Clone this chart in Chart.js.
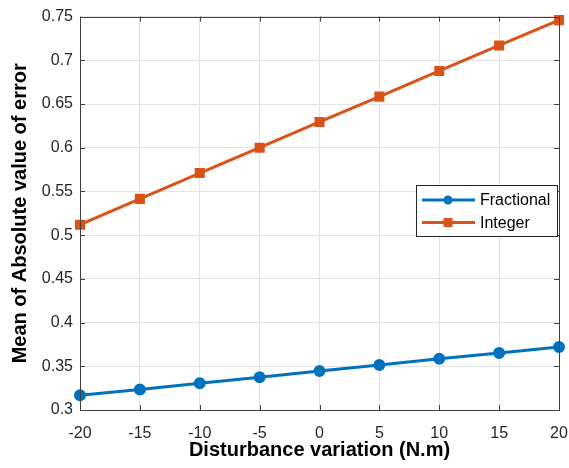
<!DOCTYPE html>
<html>
<head>
<meta charset="utf-8">
<title>Mean of absolute error vs disturbance</title>
<script src="https://cdn.jsdelivr.net/npm/chart.js@4.4.1/dist/chart.umd.min.js"></script>
<style>
  html, body { margin: 0; padding: 0; background: #fff; }
</style>
</head>
<body>
<canvas id="errChart" width="569" height="468"></canvas>
<script>
// disturbance torque steps (N.m) and mean absolute error per controller
const disturbance = [-20, -15, -10, -5, 0, 5, 10, 15, 20];
const fractional = [0.317, 0.3235, 0.3305, 0.3375, 0.3445, 0.3515, 0.3585, 0.3652, 0.372];
const integer = [0.512, 0.5415, 0.571, 0.6, 0.6295, 0.6585, 0.6878, 0.717, 0.746];
const xTicks = [-20, -15, -10, -5, 0, 5, 10, 15, 20];
const yTicks = [0.3, 0.35, 0.4, 0.45, 0.5, 0.55, 0.6, 0.65, 0.7, 0.75];

const FONT = "'Liberation Sans', Arial, sans-serif";
const AXIS_COLOR = '#404040';
const BLUE = '#0072BD';
const ORANGE = '#D95319';

const toPoints = ys => disturbance.map((x, i) => ({ x: x, y: ys[i] }));

// MATLAB style box with inward ticks on every side
const boxPlugin = {
    id: 'boxTicks',
    afterDatasetsDraw(chart) {
        const { ctx, chartArea: a, scales } = chart;
        const len = 5;
        ctx.save();
        ctx.strokeStyle = AXIS_COLOR;
        ctx.lineWidth = 1;
        ctx.strokeRect(Math.round(a.left) + 0.5, Math.round(a.top) + 0.5,
            Math.round(a.right - a.left), Math.round(a.bottom - a.top));
        ctx.beginPath();
        xTicks.forEach(v => {
            const px = Math.round(scales.x.getPixelForValue(v)) + 0.5;
            ctx.moveTo(px, a.bottom); ctx.lineTo(px, a.bottom - len);
            ctx.moveTo(px, a.top); ctx.lineTo(px, a.top + len);
        });
        yTicks.forEach(v => {
            const py = Math.round(scales.y.getPixelForValue(v)) + 0.5;
            ctx.moveTo(a.left, py); ctx.lineTo(a.left + len, py);
            ctx.moveTo(a.right, py); ctx.lineTo(a.right - len, py);
        });
        ctx.stroke();
        ctx.restore();
    }
};

// legend box drawn inside the axes, right side
const legendPlugin = {
    id: 'insideLegend',
    afterDraw(chart) {
        const { ctx, chartArea: a } = chart;
        const x0 = 416, y0 = 185, w = a.right - 2 - x0, h = 51;
        ctx.save();
        ctx.fillStyle = '#fff';
        ctx.fillRect(x0, y0, w, h);
        ctx.strokeStyle = '#262626';
        ctx.lineWidth = 1;
        ctx.strokeRect(x0 + 0.5, y0 + 0.5, w, h);
        chart.data.datasets.forEach((ds, i) => {
            const cy = y0 + 15 + i * 22.5;
            ctx.strokeStyle = ds.borderColor;
            ctx.lineWidth = ds.borderWidth;
            ctx.beginPath();
            ctx.moveTo(x0 + 6, cy); ctx.lineTo(x0 + 59, cy);
            ctx.stroke();
            ctx.fillStyle = ds.pointBackgroundColor;
            if (ds.pointStyle === 'rect') {
                ctx.fillRect(x0 + 32 - 4.5, cy - 4.5, 9, 9);
            } else {
                ctx.beginPath();
                ctx.arc(x0 + 32, cy, 4.5, 0, Math.PI * 2);
                ctx.fill();
            }
            ctx.fillStyle = '#000';
            ctx.font = '16px ' + FONT;
            ctx.textBaseline = 'middle';
            ctx.textAlign = 'left';
            ctx.fillText(ds.label, x0 + 64, cy + 1);
        });
        ctx.restore();
    }
};

new Chart(document.getElementById('errChart'), {
    type: 'line',
    data: {
        datasets: [
            {
                label: 'Fractional',
                data: toPoints(fractional),
                borderColor: BLUE,
                backgroundColor: BLUE,
                pointBackgroundColor: BLUE,
                pointBorderColor: BLUE,
                pointStyle: 'circle',
                pointRadius: 4.5,
                borderWidth: 3,
                tension: 0,
                clip: false
            },
            {
                label: 'Integer',
                data: toPoints(integer),
                borderColor: ORANGE,
                backgroundColor: ORANGE,
                pointBackgroundColor: ORANGE,
                pointBorderColor: ORANGE,
                pointStyle: 'rect',
                pointRadius: 5,
                borderWidth: 3,
                tension: 0,
                clip: false
            }
        ]
    },
    options: {
        responsive: false,
        animation: false,
        layout: { padding: { top: 15, right: 10, left: 0, bottom: 0 } },
        plugins: { legend: { display: false }, tooltip: { enabled: false } },
        scales: {
            x: {
                type: 'linear',
                min: -20,
                max: 20,
                afterBuildTicks: s => { s.ticks = xTicks.map(v => ({ value: v })); },
                // let the "20" label run past the edge instead of shrinking the axes
                afterFit: s => { s.height = 58; s.paddingRight = 0; s.paddingLeft = 0; },
                grid: { color: '#e3e3e3', drawTicks: false, lineWidth: 1 },
                border: { display: false },
                ticks: {
                    color: '#262626',
                    font: { family: FONT, size: 16 },
                    padding: 14,
                    maxRotation: 0
                },
                title: {
                    display: true,
                    text: 'Disturbance variation (N.m)',
                    color: '#000',
                    font: { family: FONT, size: 20, weight: 'bold' },
                    padding: { top: 0, bottom: 6 }
                }
            },
            y: {
                type: 'linear',
                min: 0.3,
                max: 0.75,
                afterBuildTicks: s => { s.ticks = yTicks.map(v => ({ value: v })); },
                afterFit: s => { s.width = 80; },
                grid: { color: '#e3e3e3', drawTicks: false, lineWidth: 1 },
                border: { display: false },
                ticks: {
                    color: '#262626',
                    font: { family: FONT, size: 16 },
                    padding: 7,
                    callback: v => String(+v.toFixed(2))
                },
                title: {
                    display: true,
                    text: 'Mean of Absolute value of error',
                    color: '#000',
                    font: { family: FONT, size: 20, weight: 'bold' },
                    padding: { top: 8, bottom: 0 }
                }
            }
        }
    },
    plugins: [boxPlugin, legendPlugin]
});
</script>
</body>
</html>
